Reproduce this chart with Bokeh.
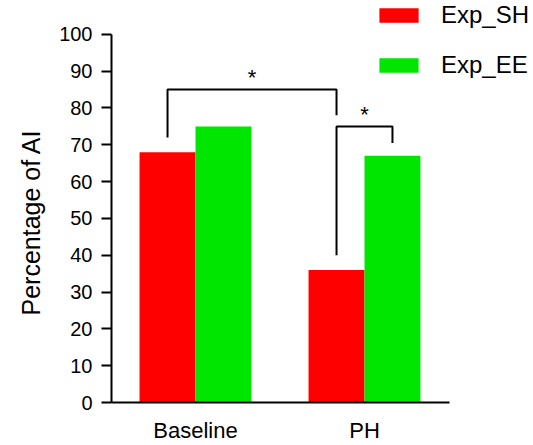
from bokeh.plotting import figure
from bokeh.models import Range1d, FixedTicker, Legend, LegendItem, ColumnDataSource, Title
from bokeh.core.properties import value
from bokeh.embed import file_html
from bokeh.resources import INLINE

# ---- data ----
categories = ["Baseline", "PH"]
series_names = ["Exp_SH", "Exp_EE"]
exp_sh = [68, 36]
exp_ee = [75, 67]
series_colors = ["#FF0000", "#00E600"]
y_ticks = [0, 10, 20, 30, 40, 50, 60, 70, 80, 90, 100]
y_title = "Percentage of AI"

# significance brackets: (category index, series index) of both ends
sig_left = [(0, 0), (1, 0)]
sig_right = [(1, 0), (1, 1)]
sig_top = [85, 75]
sig_left_bottom = [72, 40]
sig_right_bottom = [78, 70.5]
sig_text = ["*", "*"]

FONT = "Liberation Sans"
cat_pos = [1, 2]
bar_w = 0.331
offsets = [-bar_w / 2, bar_w / 2]

p = figure(width=533, height=445, output_backend="svg", toolbar_location=None,
           x_range=Range1d(0.503, 3.0), y_range=Range1d(0, 109.19),
           min_border_left=111, min_border_right=0, min_border_top=0, min_border_bottom=41)
p.outline_line_color = None
p.xgrid.visible = False
p.ygrid.visible = False
p.background_fill_color = "white"

renderers = []
for vals, off, col in zip([exp_sh, exp_ee], offsets, series_colors):
    src = ColumnDataSource(dict(x=[c + off for c in cat_pos], top=vals))
    r = p.vbar(x="x", top="top", width=bar_w, source=src, fill_color=col, line_color=None)
    renderers.append(r)

# brackets
def xpos(ci, si):
    return cat_pos[ci] + offsets[si]

xs, ys, tx, ty = [], [], [], []
for (lc, ls), (rc, rs), top, lb, rb in zip(sig_left, sig_right, sig_top, sig_left_bottom, sig_right_bottom):
    x0, x1 = xpos(lc, ls), xpos(rc, rs)
    xs.append([x0, x0, x1, x1])
    ys.append([lb, top, top, rb])
    tx.append((x0 + x1) / 2)
    ty.append(top)
p.multi_line(xs=xs, ys=ys, line_color="black", line_width=2)
p.text(x=tx, y=ty, text=sig_text, text_align="center", text_baseline="alphabetic",
       text_font=value(FONT), text_font_size="22px", y_offset=-12, text_color="black")

# axes
xa = p.xaxis[0]
xa.ticker = FixedTicker(ticks=cat_pos)
xa.major_label_overrides = {c: n for c, n in zip(cat_pos, categories)}
xa.bounds = (0.503, 2.503)
xa.major_tick_out = 0
xa.major_tick_in = 0
xa.minor_tick_out = 0
xa.minor_tick_in = 0
xa.axis_line_width = 2
xa.major_label_text_font = FONT
xa.major_label_text_font_size = "22px"
xa.major_label_text_color = "black"
xa.major_label_standoff = 15

ya = p.yaxis[0]
ya.ticker = FixedTicker(ticks=y_ticks)
ya.bounds = (0, 100)
ya.major_tick_out = 10
ya.major_tick_in = 0
ya.minor_tick_out = 0
ya.minor_tick_in = 0
ya.axis_line_width = 2
ya.major_tick_line_width = 2
ya.major_label_text_font = FONT
ya.major_label_text_font_size = "20px"
ya.major_label_text_color = "black"
ya.major_label_standoff = 9

ytitle = Title(text=y_title, align="left", offset=87, standoff=24,
               text_font=FONT, text_font_size="25px", text_font_style="normal",
               text_color="black")
p.add_layout(ytitle, "left")

legend = Legend(items=[LegendItem(label=n, renderers=[r]) for n, r in zip(series_names, renderers)],
                location=(263, 323), orientation="vertical")
legend.border_line_color = None
legend.background_fill_alpha = 0
legend.padding = 0
legend.margin = 0
legend.glyph_width = 49
legend.glyph_height = 18
legend.label_standoff = 18
legend.label_height = 28
legend.spacing = 22
legend.label_text_font = FONT
legend.label_text_font_size = "24px"
legend.label_text_color = "black"
p.add_layout(legend)

open("out.html", "w").write(file_html(p, INLINE))
